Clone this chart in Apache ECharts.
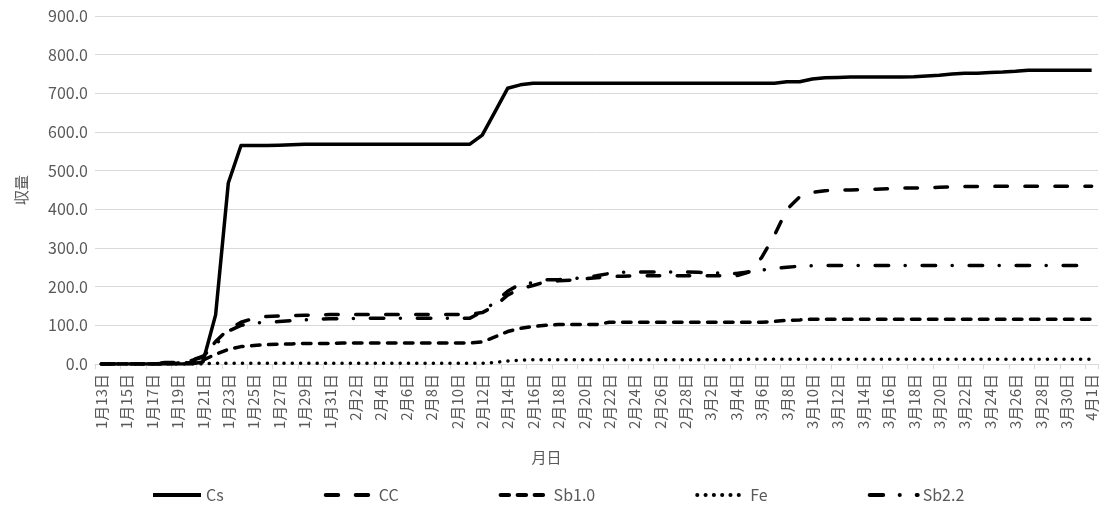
<!DOCTYPE html>
<html>
<head>
<meta charset="utf-8">
<script src="https://cdn.jsdelivr.net/npm/echarts@6/dist/echarts.min.js"></script>
<style>
  html, body { margin: 0; padding: 0; background: #fff; }
  #chart { width: 1112px; height: 512px; }
</style>
</head>
<body>
<div id="chart"></div>
<script>
// Daily category labels, 1/13 through 4/1
const months = [[1, 13, 31], [2, 1, 28], [3, 1, 31], [4, 1, 1]];
const dates = [];
months.forEach(([m, from, to]) => {
  for (let d = from; d <= to; d++) dates.push(m + '月' + d + '日');
});

const seriesNames = ['Cs', 'CC', 'Sb1.0', 'Fe', 'Sb2.2'];

// Cumulative yield per day (79 days)
const cs = [
  0, 0, 0, 0, 0, 0, 0, 0, 5, 127,
  468, 565, 565, 565, 566, 567, 568, 568, 568, 568,
  568, 568, 568, 568, 568, 568, 568, 568, 568, 568,
  592, 652, 713, 722, 726, 726, 726, 726, 726, 726,
  726, 726, 726, 726, 726, 726, 726, 726, 726, 726,
  726, 726, 726, 726, 730, 730, 737, 740, 741, 742,
  742, 742, 742, 742, 743, 745, 747, 750, 752, 752,
  754, 755, 757, 760, 760, 760, 760, 760, 760
];
const cc = [
  0, 0, 0, 0, 0, 4, 4, 8, 18, 58,
  90, 108, 118, 123, 124, 125, 126, 127, 128, 128,
  128, 128, 128, 128, 128, 128, 128, 128, 128, 128,
  133, 150, 178, 195, 203, 213, 215, 217, 220, 223,
  226, 227, 228, 228, 228, 228, 228, 228, 228, 228,
  228, 238, 275, 332, 400, 432, 444, 448, 450, 450,
  451, 452, 453, 455, 455, 456, 457, 458, 459, 459,
  459, 460, 460, 460, 460, 460, 460, 460, 460
];
const sb10 = [
  0, 0, 0, 0, 0, 0, 2, 4, 10, 25,
  38, 45, 48, 50, 51, 52, 53, 53, 53, 54,
  54, 54, 54, 54, 54, 54, 54, 54, 54, 54,
  57, 70, 84, 92, 97, 100, 102, 102, 102, 102,
  108, 108, 108, 108, 108, 108, 108, 108, 108, 108,
  108, 108, 108, 110, 113, 114, 116, 116, 116, 116,
  116, 116, 116, 116, 116, 116, 116, 116, 116, 116,
  116, 116, 116, 116, 116, 116, 116, 116, 116
];
const fe = [
  0, 0, 0, 0, 0, 0, 0, 0, 0, 2,
  2, 2, 2, 2, 2, 2, 2, 2, 2, 2,
  2, 2, 2, 2, 2, 2, 2, 2, 2, 2,
  2, 4, 8, 10, 11, 11, 11, 11, 11, 11,
  11, 11, 11, 11, 11, 11, 11, 11, 11, 11,
  11, 12, 12, 12, 12, 12, 12, 12, 12, 12,
  12, 12, 12, 12, 12, 12, 12, 12, 12, 12,
  12, 12, 12, 12, 12, 12, 12, 12, 12
];
const sb22 = [
  0, 0, 0, 0, 0, 2, 2, 8, 20, 50,
  85, 100, 106, 108, 110, 112, 114, 116, 117, 117,
  118, 118, 118, 118, 118, 118, 118, 118, 118, 118,
  135, 160, 188, 207, 210, 218, 218, 220, 224, 228,
  234, 237, 238, 238, 238, 238, 238, 237, 236, 235,
  234, 238, 243, 247, 250, 253, 254, 255, 255, 255,
  255, 255, 255, 255, 255, 255, 255, 255, 255, 255,
  255, 255, 255, 255, 255, 255, 255, 255, 255
];

const yTicks = { min: 0, max: 900, interval: 100 };

const FONT = '"Noto Sans CJK JP", "Noto Sans", sans-serif';
const GRAY = '#595959';
const LINE_W = 3.5;

function lineSeries(name, data, dash) {
  return {
    name: name,
    type: 'line',
    data: data,
    symbol: 'none',
    showSymbol: false,
    lineStyle: {
      color: '#000',
      width: LINE_W,
      type: dash,
      cap: dash === 'solid' ? 'butt' : 'round',
      join: 'round'
    },
    itemStyle: { color: '#000' },
    emphasis: { disabled: true }
  };
}

const chart = echarts.init(document.getElementById('chart'));
chart.setOption({
  animation: false,
  backgroundColor: '#fff',
  textStyle: { fontFamily: FONT },
  grid: { left: 95, right: 14, top: 16, bottom: 148, containLabel: false },
  legend: {
    data: seriesNames,
    left: 146,
    bottom: 4,
    itemWidth: 48,
    itemHeight: 14,
    itemGap: 100,
    itemStyle: { opacity: 0 },
    lineStyle: { width: 4 },
    textStyle: { color: GRAY, fontSize: 16, fontFamily: FONT }
  },
  xAxis: {
    type: 'category',
    data: dates,
    boundaryGap: true,
    name: '月日',
    nameLocation: 'middle',
    nameGap: 86,
    nameTextStyle: { color: GRAY, fontSize: 15, padding: [0, 100, 0, 0] },
    axisLine: { lineStyle: { color: '#d9d9d9', width: 1 } },
    axisTick: { show: true, interval: 1, length: 5, lineStyle: { color: '#d9d9d9' } },
    axisLabel: { interval: 1, rotate: 90, color: GRAY, fontSize: 15, margin: 10 },
    splitLine: { show: false }
  },
  yAxis: {
    type: 'value',
    min: yTicks.min,
    max: yTicks.max,
    interval: yTicks.interval,
    name: '収量',
    nameLocation: 'middle',
    nameGap: 66,
    nameRotate: 90,
    nameTextStyle: { color: GRAY, fontSize: 15 },
    axisLine: { show: false },
    axisTick: { show: false },
    axisLabel: {
      color: GRAY,
      fontSize: 16,
      margin: 7,
      formatter: v => v.toFixed(1)
    },
    splitLine: { lineStyle: { color: '#d9d9d9', width: 1 } }
  },
  series: [
    lineSeries('Cs', cs, 'solid'),
    lineSeries('CC', cc, [12.5, 17.5]),
    lineSeries('Sb1.0', sb10, [8.5, 8.5]),
    lineSeries('Fe', fe, [0.1, 8.2]),
    lineSeries('Sb2.2', sb22, [13.5, 16.5, 0.1, 16.9])
  ]
});
</script>
</body>
</html>
